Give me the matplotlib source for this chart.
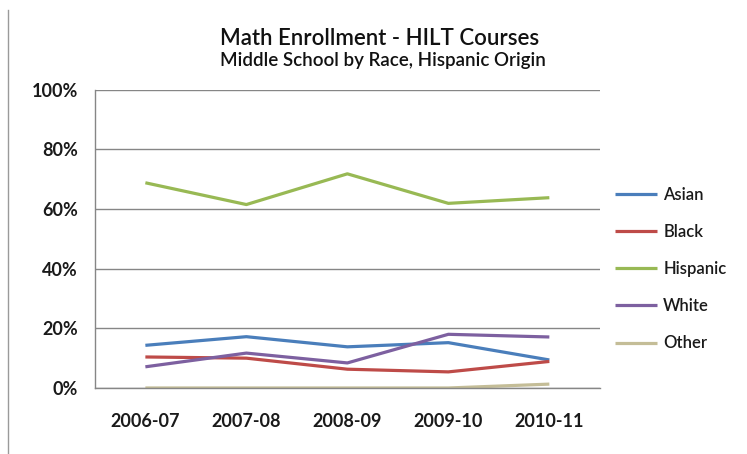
import matplotlib.pyplot as plt
from matplotlib.lines import Line2D
from matplotlib.ticker import FuncFormatter

# share of middle school HILT math enrollment by group (percent)
years = ['2006-07', '2007-08', '2008-09', '2009-10', '2010-11']
asian = [14.3, 17.2, 13.8, 15.2, 9.4]
black = [10.4, 10.0, 6.3, 5.4, 8.9]
hispanic = [68.8, 61.5, 71.8, 61.9, 63.8]
white = [7.1, 11.7, 8.4, 18.0, 17.1]
other = [0.0, 0.0, 0.0, 0.0, 1.3]

series = [('Asian', asian, '#4A7EBB'),
          ('Black', black, '#BE4B48'),
          ('Hispanic', hispanic, '#98B954'),
          ('White', white, '#7D60A0'),
          ('Other', other, '#C4BD97')]

plt.rcParams['font.family'] = ['Lato', 'DejaVu Sans']

fig = plt.figure(figsize=(7.47, 4.54), dpi=100)
ax = fig.add_axes([0.127, 0.1454, 0.676, 0.657])

x = list(range(len(years)))
for name, vals, col in series:
    ax.plot(x, vals, color=col, linewidth=2.3, label=name, solid_capstyle='butt')

ax.set_xlim(-0.5, len(years) - 0.5)
ax.set_ylim(0, 100)
ax.set_yticks([0, 20, 40, 60, 80, 100])
ax.yaxis.set_major_formatter(FuncFormatter(lambda v, p: '%d%%' % v))
ax.set_xticks(x)
ax.set_xticklabels(years)
ax.grid(axis='y', color='#868686', linewidth=1)
ax.set_axisbelow(True)
for s in ['top', 'right']:
    ax.spines[s].set_visible(False)
for s in ['left', 'bottom']:
    ax.spines[s].set_color('#868686')
    ax.spines[s].set_linewidth(1)
ax.tick_params(length=0, labelsize=13, colors='#1a1a1a')
ax.tick_params(axis='x', pad=18)
ax.tick_params(axis='y', pad=12)
for lab in ax.get_xticklabels() + ax.get_yticklabels():
    lab.set_fontweight('bold')

fig.text(0.508, 0.915, 'Math Enrollment - HILT Courses', ha='center', va='center',
         fontsize=16, fontweight='semibold', color='#111111')
fig.text(0.513, 0.866, 'Middle School by Race, Hispanic Origin', ha='center', va='center',
         fontsize=13.5, fontweight='semibold', color='#111111')

leg = ax.legend(loc='upper left', bbox_to_anchor=(1.0, 0.725), frameon=False,
                fontsize=12, handlelength=2.5, handletextpad=0.4, labelspacing=1.27)
for t in leg.get_texts():
    t.set_color('#1a1a1a')
    t.set_fontweight('semibold')

# outer frame edge on the left side
fig.add_artist(Line2D([8 / 747, 8 / 747], [0, 1 - 10 / 454], transform=fig.transFigure,
                      color='#9a9a9a', linewidth=1))

fig.savefig('out.png', dpi=100)
